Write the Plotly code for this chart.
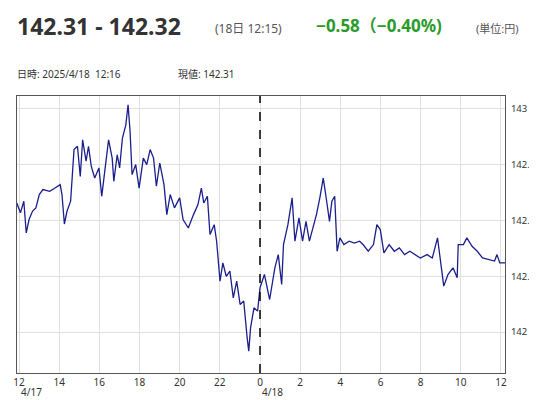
import plotly.graph_objects as go

# hours since 4/17 00:00
hours = [11.89, 12.07, 12.24, 12.36, 12.50, 12.67, 12.84, 13.01, 13.19, 13.53, 13.79, 14.05, 14.14, 14.26, 14.39,
         14.57, 14.74, 14.91, 15.05, 15.17, 15.34, 15.46, 15.60, 15.77, 15.98, 16.12, 16.29, 16.46, 16.64, 16.72,
         16.89, 17.01, 17.15, 17.32, 17.43, 17.53, 17.63, 17.81, 17.98, 18.19, 18.36, 18.53, 18.70, 18.84, 19.01,
         19.22, 19.36, 19.53, 19.74, 20.00, 20.17, 20.43, 20.69, 20.91, 21.08, 21.20, 21.38, 21.51, 21.72, 21.84,
         22.01, 22.15, 22.32, 22.50, 22.67, 22.84, 23.01, 23.19, 23.36, 23.44, 23.53, 23.70, 23.88, 24.00, 24.22,
         24.48, 24.74, 24.91, 25.08, 25.17, 25.39, 25.60, 25.74, 25.94, 26.12, 26.29, 26.46, 26.63, 26.81, 26.98,
         27.15, 27.32, 27.46, 27.58, 27.72, 27.84, 27.98, 28.18, 28.44, 28.70, 28.96, 29.13, 29.39, 29.65, 29.82,
         29.99, 30.17, 30.43, 30.69, 30.94, 31.20, 31.46, 31.72, 31.98, 32.32, 32.58, 32.84, 33.01, 33.15, 33.36,
         33.61, 33.82, 33.87, 34.13, 34.30, 34.56, 34.82, 35.08, 35.34, 35.68, 35.80, 35.94, 36.20]
price = [142.578, 142.534, 142.586, 142.444, 142.504, 142.541, 142.556, 142.616, 142.638, 142.630, 142.645, 142.660,
         142.616, 142.484, 142.541, 142.586, 142.817, 142.832, 142.697, 142.861, 142.765, 142.832, 142.742, 142.690,
         142.735, 142.608, 142.735, 142.861, 142.779, 142.675, 142.794, 142.735, 142.869, 142.928, 143.018, 142.899,
         142.705, 142.750, 142.645, 142.779, 142.750, 142.817, 142.779, 142.653, 142.757, 142.660, 142.526, 142.616,
         142.556, 142.601, 142.504, 142.466, 142.526, 142.571, 142.645, 142.578, 142.608, 142.437, 142.481, 142.407,
         142.228, 142.310, 142.250, 142.273, 142.153, 142.228, 142.124, 142.139, 141.975, 141.915, 142.019, 142.109,
         142.094, 142.198, 142.258, 142.146, 142.288, 142.347, 142.213, 142.392, 142.481, 142.601, 142.407, 142.511,
         142.407, 142.496, 142.407, 142.466, 142.526, 142.601, 142.690, 142.586, 142.496, 142.586, 142.608, 142.362,
         142.422, 142.392, 142.407, 142.399, 142.407, 142.392, 142.362, 142.392, 142.481, 142.459, 142.355, 142.392,
         142.362, 142.377, 142.347, 142.362, 142.347, 142.332, 142.347, 142.332, 142.422, 142.303, 142.206, 142.258,
         142.288, 142.243, 142.392, 142.392, 142.422, 142.384, 142.362, 142.332, 142.325, 142.318, 142.347, 142.310,
         142.310]

tick_hours = [12, 14, 16, 18, 20, 22, 24, 26, 28, 30, 32, 34, 36]
tick_text = ['12', '14', '16', '18', '20', '22', '0', '2', '4', '6', '8', '10', '12']
date_hours = [12, 24]
date_text = ['4/17', '4/18']
y_ticks = [142, 142.25, 142.5, 142.75, 143]
y_text = ['142', '142.25', '142.5', '142.75', '143']

fig = go.Figure()
fig.add_trace(go.Scatter(x=hours, y=price, mode='lines', line=dict(color='#1a1f8c', width=1.3)))
fig.add_vline(x=24, line=dict(color='black', width=1.5, dash='dash'))

W, L, R, T, B = 537, 9, 40, 88, 35
ph = 400 - T - B
pw = W - L - R
def px(x): return (x - L) / pw
def py(y): return (400 - B - y) / ph

fig.update_layout(
    width=W, height=400, margin=dict(l=L, r=R, t=T, b=B, autoexpand=False),
    paper_bgcolor='white', plot_bgcolor='white', showlegend=False,
    font=dict(family='Noto Sans, Noto Sans CJK JP, sans-serif', color='#333', size=10),
    xaxis=dict(range=[11.9, 36.2], tickvals=tick_hours, ticktext=tick_text, showgrid=True,
               gridcolor='#e0e0e0', zeroline=False, showline=True, linecolor='#555', mirror=True,
               ticks='', tickfont=dict(size=10)),
    yaxis=dict(range=[141.817, 143.057], side='right', tickvals=y_ticks, ticktext=y_text,
               showgrid=True, gridcolor='#e0e0e0', zeroline=False, showline=True, linecolor='#555',
               mirror=True, ticks='', ticklabelstandoff=3, tickfont=dict(size=9.5)),
)
for h, t in zip(date_hours, date_text):
    fig.add_annotation(text=t, x=h, xref='x', y=py(384), yref='paper', xanchor='left',
                       yanchor='middle', showarrow=False, font=dict(size=10))

ann = [
    ('142.31 - 142.32', 7, 18, 23, '#333', True),
    ('(18日 12:15)', 205, 20, 12, '#555', False),
    ('−0.58（−0.40%)', 306, 18, 17, '#2a9a2a', True),
    ('(単位:円)', 466, 20, 11, '#555', False),
    ('日時: 2025/4/18  12:16', 7, 66, 10, '#333', False),
    ('現値: 142.31', 168, 66, 10, '#333', False),
]
for text, x, y, size, color, bold in ann:
    fig.add_annotation(text='<b>%s</b>' % text if bold else text, xref='paper', yref='paper',
                       x=px(x), y=py(y), xanchor='left', yanchor='middle', showarrow=False,
                       font=dict(size=size, color=color))

fig.write_html("out.html")
